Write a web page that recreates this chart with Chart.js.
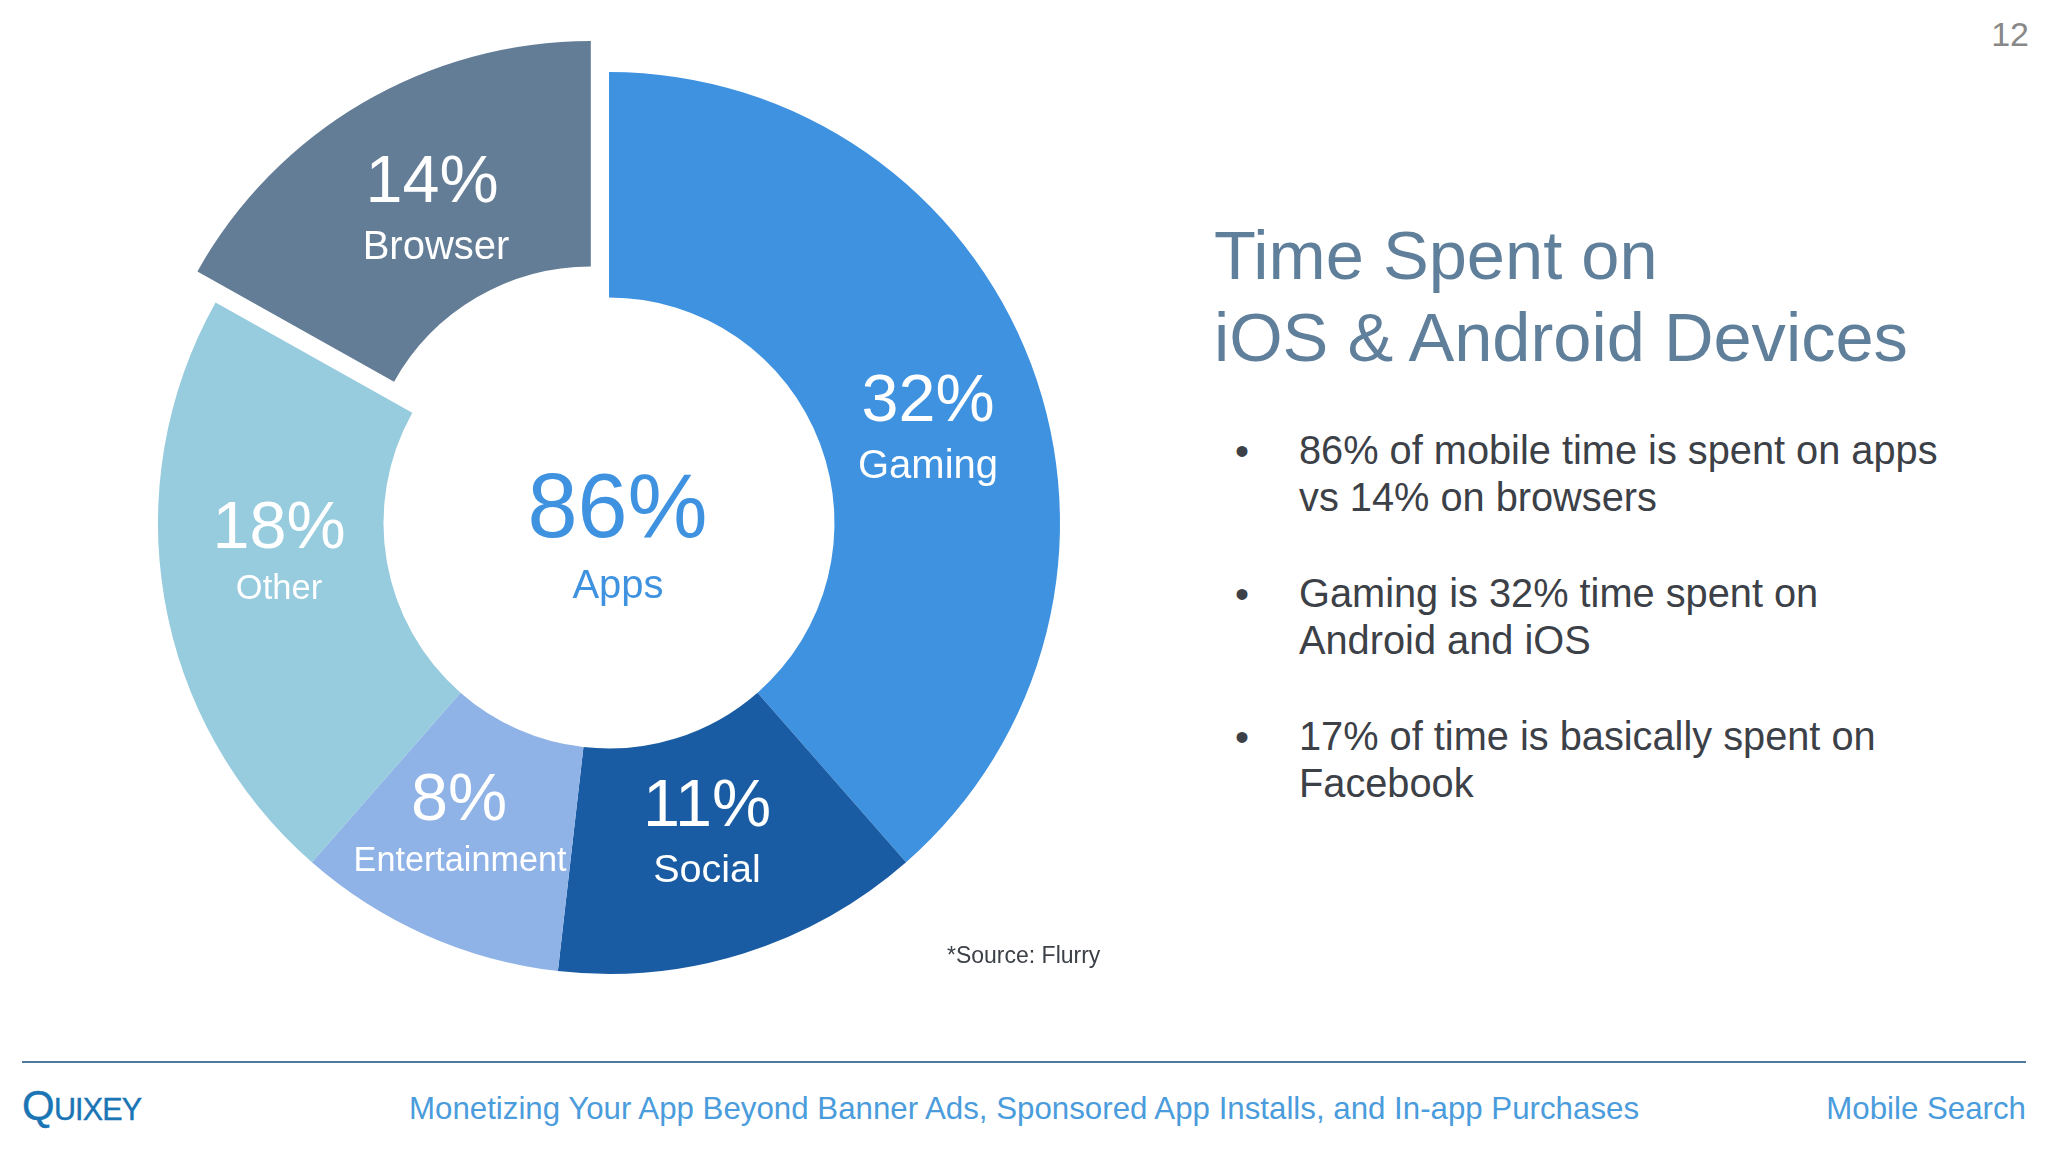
<!DOCTYPE html>
<html>
<head>
<meta charset="utf-8">
<title>Time Spent on iOS & Android Devices</title>
<script src="https://cdn.jsdelivr.net/npm/chart.js@4"></script>
<style>
html, body { margin: 0; padding: 0; background: #fff; }
body { width: 2048px; height: 1152px; position: relative; overflow: hidden; font-family: "Liberation Sans", Arial, sans-serif; }
#myChart { position: absolute; left: 0; top: 0; }
.txt { position: absolute; white-space: nowrap; line-height: 1; }
.mid { transform: translate(-50%, -50%); }
.sliceLabel { color: #fff; }
.title { left: 1214px; font-size: 68.6px; color: #5f7f9b; }
.body { left: 1299px; font-size: 39.75px; color: #3c4047; }
.bullet { left: 1235px; font-size: 40px; color: #3c4047; }
.foot { top: 1093px; font-size: 31.25px; color: #4a9cdc; }
#rule { position: absolute; left: 22px; top: 1061px; width: 2004px; height: 2px; background: #4f7a9f; }
#logo { left: 22px; top: 1085px; color: #1a75b5; font-size: 30.5px; letter-spacing: -0.8px; -webkit-text-stroke: 0.4px #1a75b5; }
#logo b { font-weight: normal; font-size: 42px; }
</style>
</head>
<body>
<canvas id="myChart" width="1218" height="1046" style="width:1218px;height:1046px"></canvas>
<div id="labels"></div>
<div class="txt" style="right:19px;top:17px;font-size:34px;color:#888">12</div>
<div class="txt title" style="top:222px">Time Spent on</div>
<div class="txt title" style="top:304px">iOS &amp; Android Devices</div>
<div id="bullets"></div>
<div class="txt" style="left:947px;top:944px;font-size:23px;color:#3c4047">*Source: Flurry</div>
<div id="rule"></div>
<div class="txt" id="logo"><b>Q</b>UIXEY</div>
<div class="txt foot" style="left:409px">Monetizing Your App Beyond Banner Ads, Sponsored App Installs, and In-app Purchases</div>
<div class="txt foot" style="right:22px">Mobile Search</div>
<script>
const categorias = ["Gaming", "Social", "Entertainment", "Other", "Browser"];
const valores = [32, 11, 8, 18, 14];
const colores = ["#3f92e0", "#1a5ca3", "#8fb3e6", "#97cbde", "#647d97"];
const centroValor = 86;
const centroTexto = "Apps";
const puntos = [
    ["86% of mobile time is spent on apps", "vs 14% on browsers"],
    ["Gaming is 32% time spent on", "Android and iOS"],
    ["17% of time is basically spent on", "Facebook"]
];

function crearTexto(padre, clase, texto, css) {
    const el = document.createElement("div");
    el.className = "txt " + clase;
    el.textContent = texto;
    el.style.cssText = css;
    padre.appendChild(el);
}

// donde va cada etiqueta: [x, y valor, tam valor, x, y nombre, tam nombre]
const lugares = [
    [928, 398, 66.5, 928, 464, 40],
    [707, 803, 66.5, 707, 869, 39.5],
    [459, 797, 66.5, 460, 859, 34.2],
    [279, 525, 66.5, 279, 587, 34.5],
    [432, 179, 66.5, 436, 245, 40]
];
function cargarEtiquetas() {
    const cont = document.getElementById("labels");
    valores.forEach((v, i) => {
        const l = lugares[i];
        crearTexto(cont, "mid sliceLabel", v + "%", `left:${l[0]}px;top:${l[1]}px;font-size:${l[2]}px`);
        crearTexto(cont, "mid sliceLabel", categorias[i], `left:${l[3]}px;top:${l[4]}px;font-size:${l[5]}px`);
    });
    crearTexto(cont, "mid", centroValor + "%", "left:617.5px;top:506px;font-size:90px;color:#3f92e0");
    crearTexto(cont, "mid", centroTexto, "left:618px;top:584px;font-size:40px;color:#3f92e0");
}
function cargarPuntos() {
    const cont = document.getElementById("bullets");
    const tops = [[431, 478], [574, 621], [717, 764]];
    puntos.forEach((p, i) => {
        crearTexto(cont, "bullet", "•", `top:${tops[i][0]}px`);
        p.forEach((linea, j) => {
            crearTexto(cont, "body", linea, `top:${tops[i][j]}px`);
        });
    });
}

// la rebanada separada: solo Browser se corre desde el centro
const separacion = 36;
const separarBrowser = {
    id: "separarBrowser",
    afterDatasetsUpdate(chart) {
        const arc = chart.getDatasetMeta(0).data[categorias.indexOf("Browser")];
        const medio = (arc.startAngle + arc.endAngle) / 2;
        arc.x += Math.cos(medio) * separacion;
        arc.y += Math.sin(medio) * separacion;
    }
};

function loadGraph() {
    const myChart = document.getElementById("myChart");
    new Chart(myChart, {
        type: "doughnut",
        data: {
            labels: categorias,
            datasets: [{
                data: valores,
                backgroundColor: colores,
                borderWidth: 0
            }]
        },
        options: {
            responsive: false,
            animation: false,
            radius: 451,
            cutout: "50%",
            layout: { padding: 0 },
            plugins: { legend: { display: false }, tooltip: { enabled: false } }
        },
        plugins: [separarBrowser]
    });
}
function cargaInicial() {
    cargarEtiquetas();
    cargarPuntos();
    loadGraph();
}
cargaInicial();
</script>
</body>
</html>
